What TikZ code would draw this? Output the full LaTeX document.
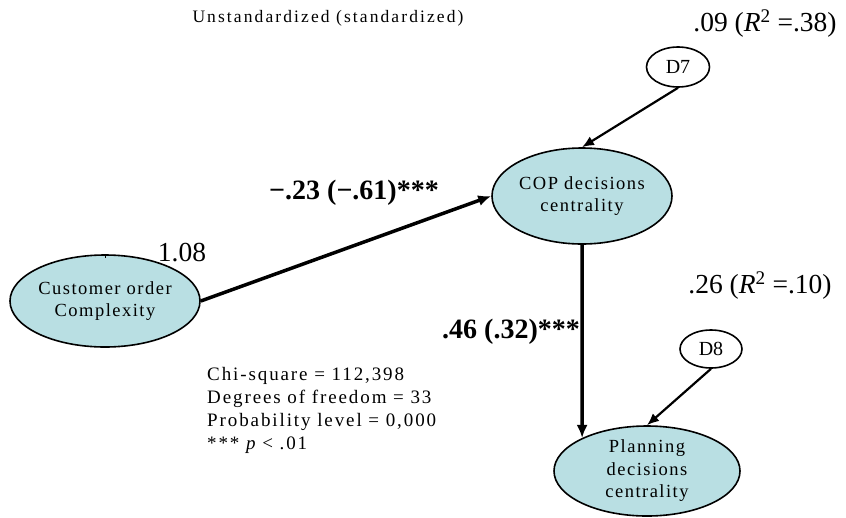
\documentclass[tikz,border=0pt]{standalone}
\usepackage{fontspec}
\setmainfont{Liberation Serif}
\newfontfamily\spacedserif[LetterSpace=8]{Liberation Serif}
\newfontfamily\widespaced[LetterSpace=12]{Liberation Serif}
\newfontfamily\statserif[LetterSpace=10]{Liberation Serif}
\usetikzlibrary{arrows.meta,shapes.geometric}
\definecolor{latentfill}{RGB}{185,223,227}

\begin{document}
\begin{tikzpicture}[x=1pt,y=-1pt,
  latent/.style={ellipse, draw, line width=1.6pt, fill=latentfill, inner sep=0pt,
    align=center, font=\spacedserif\fontsize{18.5}{22.5}\selectfont},
  disturb/.style={ellipse, draw, line width=1.6pt, fill=white, inner sep=0pt,
    font=\fontsize{20}{22}\selectfont},
  pathbig/.style={line width=3.5pt, -{Latex[length=13pt,width=11pt]}},
  pathsmall/.style={line width=2.2pt, -{Latex[length=12pt,width=10pt]}},
  coef/.style={font=\bfseries\fontsize{28}{30}\selectfont, inner sep=0pt},
  est/.style={font=\fontsize{27.5}{30}\selectfont, inner sep=0pt}
]
\useasboundingbox (0,0) rectangle (846,517);

% title
\node[font=\widespaced\fontsize{17.5}{20}\selectfont, inner sep=0pt] (title) at (328,18)
  {Unstandardized (standardized)};

% latent variables
\node[latent, minimum width=190pt, minimum height=92pt] (cust) at (105,301)
  {Customer order\\Complexity};
\node[latent, minimum width=180pt, minimum height=96pt] (cop) at (582,196)
  {COP decisions\\centrality};
\node[latent, minimum width=186pt, minimum height=90pt] (plan) at (647,471)
  {Planning\\decisions\\centrality};

% disturbances
\node[disturb, minimum width=63pt, minimum height=40pt] (d7) at (678,67) {D7};
\node[disturb, minimum width=62pt, minimum height=38pt] (d8) at (711,349) {D8};

% variance tick on the exogenous variable
\coordinate (tick) at ([yshift=-4pt]cust.north);
\draw[line width=0.8pt] (cust.north) -- (tick);

% structural paths
\draw[pathbig] (cust.east) -- (cop.west);
\draw[pathbig] (cop.south) -- (plan.153);
\draw[pathsmall] (d7.south) -- (cop.north);
\draw[pathsmall] (d8.south) -- (plan.north);

% coefficients
\node[coef] (c1) at (354,193) {−.23 (−.61)***};
\node[coef] (c2) at (511,332) {.46 (.32)***};
\node[est] (var) at (182,253) {1.08};
\node[est] (r7) at (765,24) {.09 ({\itshape R}\textsuperscript{2} =.38)};
\node[est] (r8) at (760,286) {.26 ({\itshape R}\textsuperscript{2} =.10)};

% fit statistics
\node[anchor=north west, inner sep=0pt, align=left,
  font=\statserif\fontsize{19}{23}\selectfont] (fit) at (207,367)
  {Chi-square = 112,398\\Degrees of freedom = 33\\Probability level = 0,000\\*** {\itshape p} < .01};
\end{tikzpicture}
\end{document}
